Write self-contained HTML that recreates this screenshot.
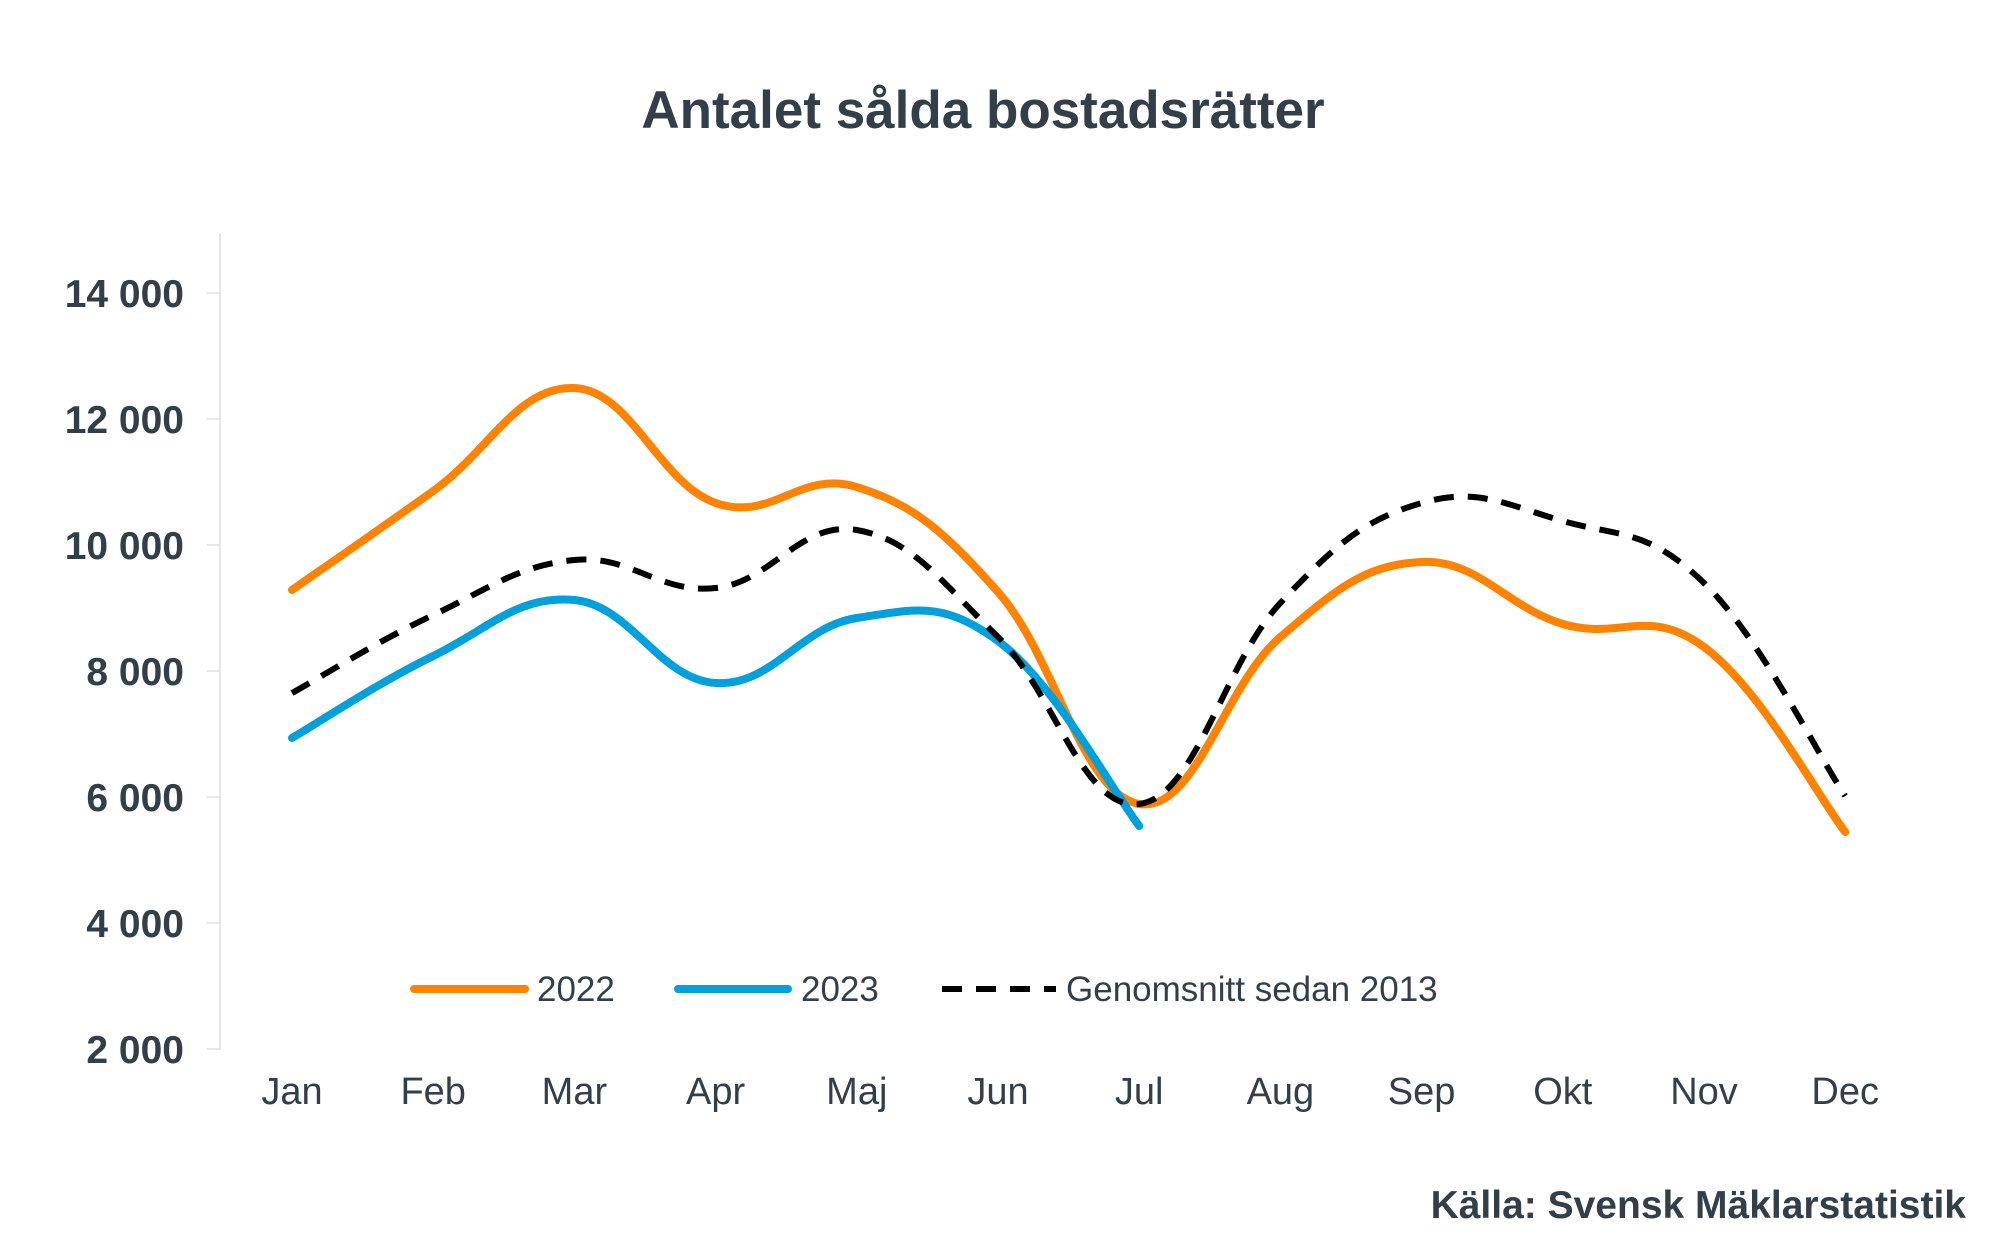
<!DOCTYPE html>
<html><head><meta charset="utf-8"><style>
html,body{margin:0;padding:0;background:#fff;}
svg{display:block}
text{font-family:"Liberation Sans",Arial,sans-serif;fill:#333f48}
</style></head><body>
<svg id="s" width="2000" height="1254" viewBox="0 0 2000 1254" xmlns="http://www.w3.org/2000/svg">
<text x="983" y="128" font-size="53" font-weight="bold" text-anchor="middle">Antalet sålda bostadsrätter</text>
<line x1="220" y1="233" x2="220" y2="1050" stroke="#e3e6ec" stroke-width="2"/>
<g stroke="#e3e6ec" stroke-width="2">
<line x1="207" y1="293" x2="220" y2="293"/><line x1="207" y1="419" x2="220" y2="419"/>
<line x1="207" y1="545" x2="220" y2="545"/><line x1="207" y1="671" x2="220" y2="671"/>
<line x1="207" y1="797" x2="220" y2="797"/><line x1="207" y1="923" x2="220" y2="923"/>
<line x1="207" y1="1049" x2="220" y2="1049"/>
</g>
<g font-size="39" font-weight="bold" text-anchor="end">
<text x="184" y="307">14 000</text><text x="184" y="433">12 000</text>
<text x="184" y="559">10 000</text><text x="184" y="685">8 000</text>
<text x="184" y="811">6 000</text><text x="184" y="937">4 000</text>
<text x="184" y="1063">2 000</text>
</g>
<g font-size="38" text-anchor="middle" id="xl"></g>
<g id="lines"></g>
<line x1="414" y1="989" x2="525" y2="989" stroke="#ff8200" stroke-width="8" stroke-linecap="round"/>
<text x="537" y="1001" font-size="35">2022</text>
<line x1="678" y1="989" x2="788" y2="989" stroke="#00a0dc" stroke-width="8" stroke-linecap="round"/>
<text x="801" y="1001" font-size="35">2023</text>
<line x1="942" y1="989" x2="1056" y2="989" stroke="#000" stroke-width="6" stroke-dasharray="20 14"/>
<text x="1066" y="1001" font-size="35">Genomsnitt sedan 2013</text>
<text x="1966" y="1218" font-size="39" font-weight="bold" text-anchor="end">Källa: Svensk Mäklarstatistik</text>
</svg>
<script>
var ns="http://www.w3.org/2000/svg";
var m=["Jan","Feb","Mar","Apr","Maj","Jun","Jul","Aug","Sep","Okt","Nov","Dec"];
function X(i){return 292+i*141.2;}
function Y(v){return 293+(14000-v)*0.063;}
var xl=document.getElementById("xl");
m.forEach(function(t,i){var e=document.createElementNS(ns,"text");e.setAttribute("x",X(i));e.setAttribute("y",1104);e.textContent=t;xl.appendChild(e);});
function path(d){
 var p=d.map(function(v,i){return [X(i),Y(v)];});
 var s="M"+p[0][0]+","+p[0][1];
 for(var i=0;i<p.length-1;i++){
  var p0=p[i-1]||p[i],p1=p[i],p2=p[i+1],p3=p[i+2]||p2;
  var t=0.5/3*1.2;
  var c1=[p1[0]+(p2[0]-p0[0])*t,p1[1]+(p2[1]-p0[1])*t];
  var c2=[p2[0]-(p3[0]-p1[0])*t,p2[1]-(p3[1]-p1[1])*t];
  s+=" C"+c1[0]+","+c1[1]+" "+c2[0]+","+c2[1]+" "+p2[0]+","+p2[1];
 }
 return s;
}
var g=document.getElementById("lines");
function add(d,c,w,dash){var e=document.createElementNS(ns,"path");e.setAttribute("d",path(d));e.setAttribute("fill","none");e.setAttribute("stroke",c);e.setAttribute("stroke-width",w);e.setAttribute("stroke-linecap",dash?"butt":"round");if(dash)e.setAttribute("stroke-dasharray",dash);g.appendChild(e);}
add([9286,10857,12492,10667,10920,9254,5889,8540,9730,8746,8381,5444],"#ff8200",8);
add([6937,8238,9127,7810,8841,8476,5540],"#00a0dc",8);
add([7650,8889,9762,9317,10238,8540,5889,9080,10667,10381,9397,6016],"#000",6,"20 14");
</script>
</body></html>
